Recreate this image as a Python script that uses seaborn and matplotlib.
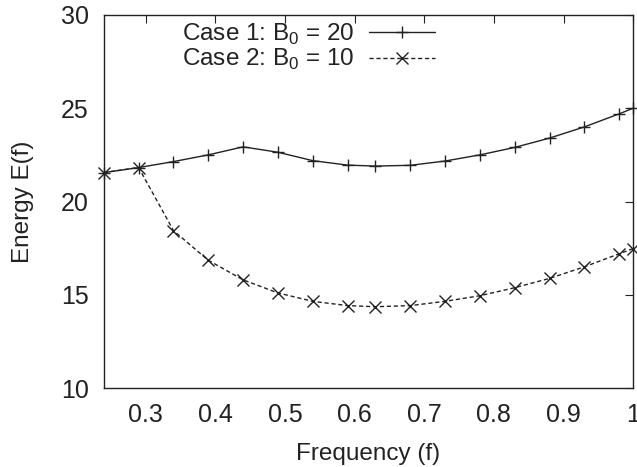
import matplotlib
matplotlib.use("Agg")
import matplotlib.pyplot as plt
import seaborn as sns
import pandas as pd

freq = [0.24, 0.29, 0.34, 0.39, 0.44, 0.49, 0.54, 0.59, 0.63, 0.68, 0.73, 0.78, 0.83, 0.88, 0.93, 0.98, 1.0]
case1 = [21.55, 21.82, 22.14, 22.5, 22.93, 22.64, 22.19, 21.95, 21.9, 21.94, 22.17, 22.5, 22.9, 23.4, 24.0, 24.7, 25.0]
case2 = [21.55, 21.82, 18.44, 16.85, 15.8, 15.1, 14.65, 14.42, 14.36, 14.42, 14.65, 14.95, 15.38, 15.88, 16.5, 17.2, 17.48]
label1 = "Case 1: B$_0$ = 20"
label2 = "Case 2: B$_0$ = 10"
xticks = [0.3, 0.4, 0.5, 0.6, 0.7, 0.8, 0.9, 1.0]
xticklabels = ["0.3", "0.4", "0.5", "0.6", "0.7", "0.8", "0.9", "1"]
yticks = [10, 15, 20, 25, 30]

sns.set_style("white")
plt.rcParams['font.family'] = ['Liberation Sans', 'DejaVu Sans']
plt.rcParams['mathtext.fontset'] = 'custom'
plt.rcParams['mathtext.rm'] = 'Liberation Sans'

INK = "#222222"
fig = plt.figure(figsize=(6.37, 4.67), dpi=100)
ax = fig.add_axes([0.163, 0.169, 0.831, 0.799])

df1 = pd.DataFrame({"f": freq, "E": case1})
df2 = pd.DataFrame({"f": freq, "E": case2})
sns.lineplot(data=df1, x="f", y="E", ax=ax, color=INK, linewidth=1.0,
             marker="+", markersize=8.5, markeredgewidth=1.0, markeredgecolor=INK,
             label=label1, clip_on=False)
sns.lineplot(data=df2, x="f", y="E", ax=ax, color=INK, linewidth=1.0,
             linestyle=(0, (3, 2)), marker="x", markersize=8.5, markeredgewidth=1.0,
             markeredgecolor=INK, label=label2, clip_on=False)

ax.set_xlim(0.24, 1.0)
ax.set_ylim(10, 30)
ax.set_xticks(xticks)
ax.set_xticklabels(xticklabels)
ax.set_yticks(yticks)
ax.tick_params(direction="in", length=6, width=0.8, top=True, right=True,
               labelsize=18, colors=INK)
ax.tick_params(axis="x", pad=11)
ax.tick_params(axis="y", pad=11)
for s in ax.spines.values():
    s.set_color(INK)
    s.set_linewidth(1.0)
ax.set_xlabel("Frequency (f)", fontsize=17.5, color=INK, labelpad=11)
ax.set_ylabel("Energy E(f)", fontsize=17.5, color=INK, labelpad=19)

leg = ax.legend(loc="upper left", bbox_to_anchor=(182 / 637, 1 - 22 / 467),
                bbox_transform=fig.transFigure, frameon=False,
                markerfirst=False, fontsize=17.5, handlelength=2.7, handletextpad=0.6,
                labelspacing=0.0, borderpad=0, borderaxespad=0)
for t in leg.get_texts():
    t.set_color(INK)

fig.savefig("out.png", dpi=100)
